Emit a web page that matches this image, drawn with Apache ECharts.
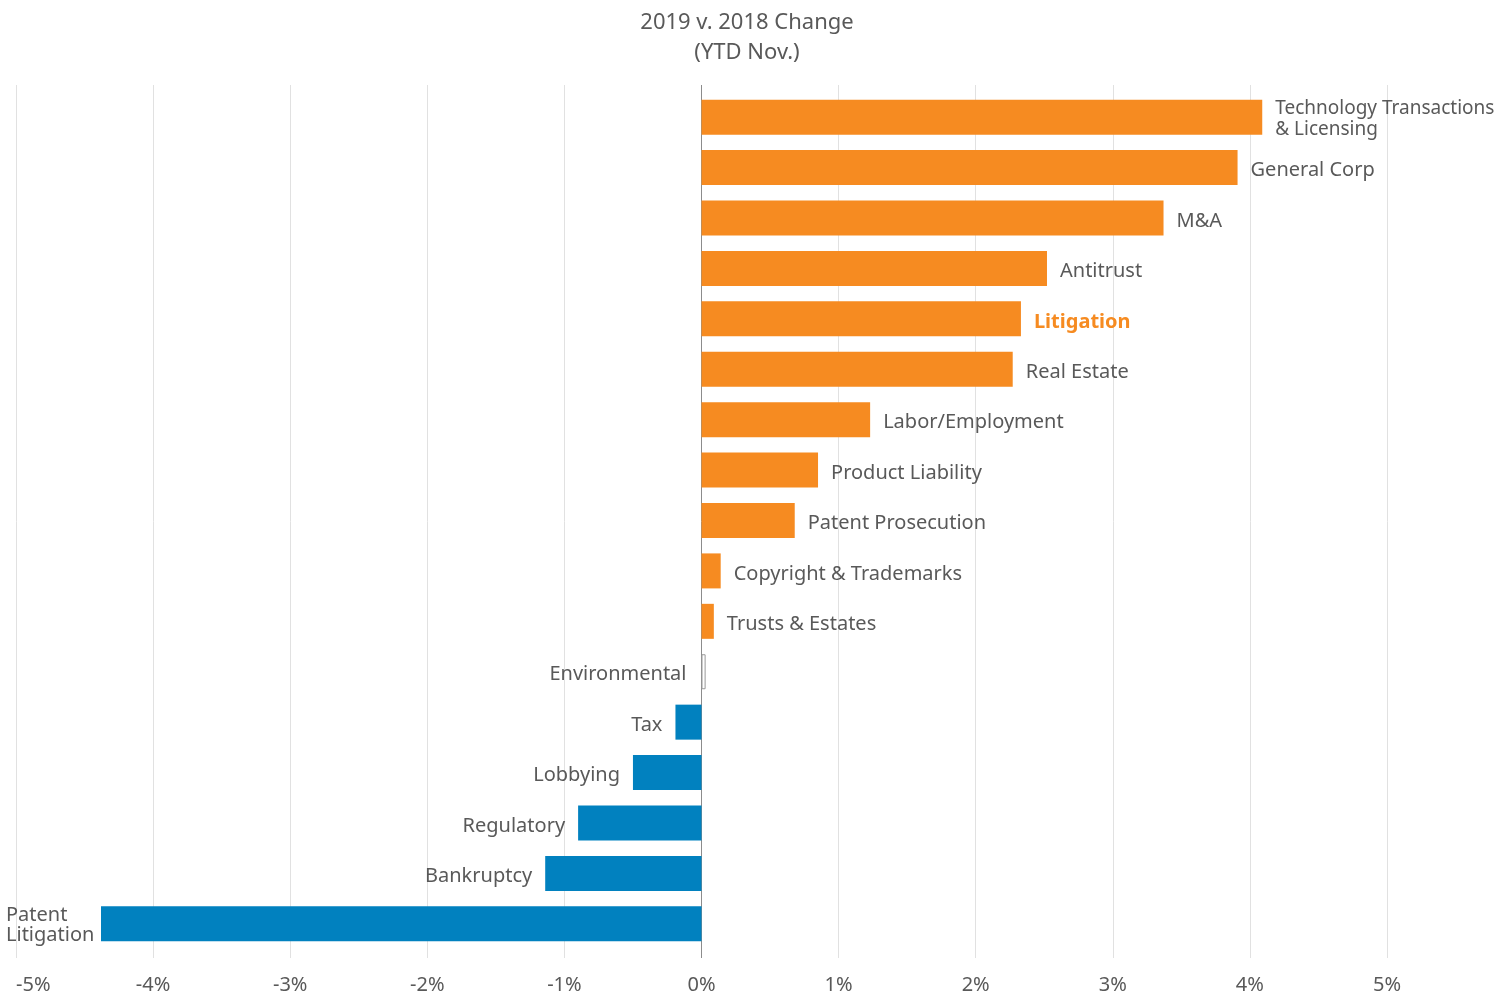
<!DOCTYPE html>
<html>
<head>
<meta charset="utf-8">
<script src="https://cdn.jsdelivr.net/npm/echarts@6/dist/echarts.min.js"></script>
<style>
  html, body { margin: 0; padding: 0; background: #fff; }
  #chart { width: 1502px; height: 996px; }
</style>
</head>
<body>
<div id="chart"></div>
<script>
const categories = [
  'Technology Transactions\n& Licensing', 'General Corp', 'M&A', 'Antitrust', 'Litigation',
  'Real Estate', 'Labor/Employment', 'Product Liability', 'Patent Prosecution',
  'Copyright & Trademarks', 'Trusts & Estates', 'Environmental', 'Tax', 'Lobbying',
  'Regulatory', 'Bankruptcy', 'Patent\nLitigation'
]
const changes = [4.09, 3.91, 3.37, 2.52, 2.33, 2.27, 1.23, 0.85, 0.68, 0.14, 0.09, 0.03, -0.19, -0.50, -0.90, -1.14, -4.38]
const xTicks = [-5, -4, -3, -2, -1, 0, 1, 2, 3, 4, 5]

const ORANGE = '#F68B21'
const BLUE = '#0181BF'
const TEXT = '#595959'
const FONT = '"Noto Sans", sans-serif'

const barData = changes.map((v, i) => {
  const name = categories[i]
  const item = { value: v, itemStyle: { color: v >= 0 ? ORANGE : BLUE } }
  const label = { show: true, position: v >= 0 ? 'right' : 'left', distance: 13, offset: [0, 3] }
  if (name === 'Environmental') {
    item.itemStyle = { color: '#fff', borderColor: '#999', borderWidth: 1 }
    label.position = 'left'
    label.distance = 15
  }
  if (name === 'Litigation') {
    label.color = ORANGE
    label.fontWeight = 'bold'
  }
  if (name.indexOf('\n') >= 0) {
    label.lineHeight = 21
    label.fontSize = 19
    label.offset = [0, 2]
  }
  if (name === 'Patent\nLitigation') {
    label.formatter = '{a|Patent}\n{a|Litigation}'
    label.rich = { a: { width: 82, align: 'left', fontSize: 20, lineHeight: 20, color: TEXT, fontFamily: FONT } }
  }
  item.label = label
  return item
})

const gridColors = xTicks.map(t => (t === 0 ? '#8c8c8c' : '#e1e1e1'))

const option = {
  animation: false,
  backgroundColor: '#fff',
  title: {
    text: '2019 v. 2018 Change\n(YTD Nov.)',
    left: 742,
    top: 3,
    textAlign: 'center',
    textStyle: { color: TEXT, fontSize: 22, fontWeight: 'normal', fontFamily: FONT, lineHeight: 30 }
  },
  grid: [
    { left: 16, right: 115, top: 92, bottom: 47 },
    { left: 16, right: 115, top: 85, bottom: 38 }
  ],
  xAxis: [
    { gridIndex: 0, type: 'value', min: -5, max: 5, show: false },
    {
      gridIndex: 1, type: 'value', min: -5, max: 5, interval: 1,
      axisLine: { show: false },
      axisTick: { show: false },
      splitLine: { show: true, lineStyle: { color: gridColors, width: 1 } },
      axisLabel: {
        formatter: '{value}%', color: TEXT, fontSize: 20, fontFamily: FONT, margin: 17,
        alignMinLabel: 'left'
      }
    }
  ],
  yAxis: [
    { gridIndex: 0, type: 'category', data: categories, inverse: true, show: false },
    { gridIndex: 1, type: 'value', show: false, min: 0, max: 1 }
  ],
  series: [
    {
      type: 'bar',
      xAxisIndex: 0,
      yAxisIndex: 0,
      data: barData,
      barWidth: 35,
      label: { color: TEXT, fontSize: 20, fontFamily: FONT, formatter: '{b}' }
    }
  ]
}

const chart = echarts.init(document.getElementById('chart'))
chart.setOption(option)
</script>
</body>
</html>
